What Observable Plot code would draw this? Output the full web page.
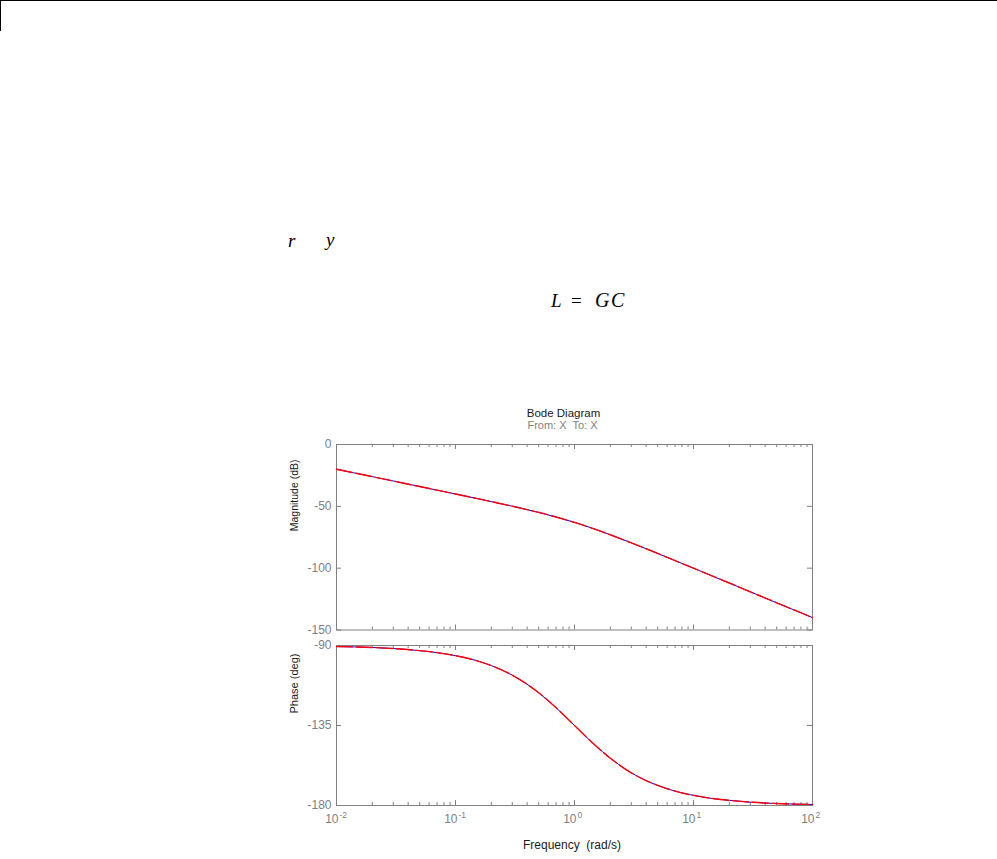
<!DOCTYPE html>
<html>
<head>
<meta charset="utf-8">
<script src="https://cdn.jsdelivr.net/npm/d3@7"></script>
<script src="https://cdn.jsdelivr.net/npm/@observablehq/plot@0.6"></script>
<style>
  body { margin: 0; background: #fff; }
  #page { position: relative; width: 997px; height: 859px; overflow: hidden; background: #fff;
          font-family: "Liberation Sans", Arial, sans-serif; }
  #page > svg { position: absolute; left: 0; }
</style>
</head>
<body>
<div id="page">
  <svg id="deco" width="997" height="400" style="top:0">
    <line x1="0" y1="0.5" x2="997" y2="0.5" stroke="#000" stroke-width="1"></line>
    <line x1="0.5" y1="0" x2="0.5" y2="31" stroke="#000" stroke-width="1"></line>
    <g font-family="Liberation Serif, DejaVu Serif, serif" font-size="19" fill="#000">
      <text x="288" y="247" font-style="italic">r</text>
      <text x="326" y="246" font-style="italic">y</text>
      <text x="551" y="307" font-style="italic">L</text>
      <text x="571" y="307">=</text>
      <text x="595" y="307" font-style="italic" font-size="20">G</text>
      <text x="611" y="307" font-style="italic" font-size="20">C</text>
    </g>
  </svg>
</div>
<script>
// ---- data ----
const freq     = [0.01, 0.02, 0.03, 0.05, 0.07, 0.1, 0.15, 0.2, 0.3, 0.4, 0.5, 0.7, 1, 1.5, 2, 3, 4, 5, 7, 10, 15, 20, 30, 50, 70, 100];
const magDb    = [-20.0, -26.0, -29.5, -34.0, -36.9, -40.0, -43.6, -46.2, -49.9, -52.7, -54.9, -58.6, -63.0, -68.6, -73.0, -79.5, -84.3, -88.1, -93.9, -100.0, -107.1, -112.0, -119.1, -128.0, -133.8, -140.0];
const phaseDeg = [-90.6, -91.1, -91.7, -92.9, -94.0, -95.7, -98.5, -101.3, -106.7, -111.8, -116.6, -125.0, -135.0, -146.3, -153.4, -161.6, -166.0, -168.7, -171.9, -174.3, -176.2, -177.1, -178.1, -178.9, -179.2, -179.4];
const magTicks   = [0, -50, -100, -150];
const phaseTicks = [-90, -135, -180];
const decadeTicks = [0.01, 0.1, 1, 10, 100];
const decadeExponents = ["-2", "-1", "0", "1", "2"];
const minorMultipliers = [2, 3, 4, 5, 6, 7, 8, 9];
const titleText = "Bode Diagram";
const subtitleText = "From: X  To: X";
const magLabel = "Magnitude (dB)";
const phaseLabel = "Phase (deg)";
const freqLabel = "Frequency  (rad/s)";

const rows = freq.map((f, i) => ({f, m: magDb[i], p: phaseDeg[i]}));
const minorTicks = decadeTicks.slice(0, 4).flatMap(d => minorMultipliers.map(k => k * d));

const W = 997, ML = 336, MR = 185;
const frameW = W - ML - MR;
const grey = "#808080";
const dark = "#1a1a1a";
const font = "Liberation Sans, Arial, sans-serif";

function tickMarks(frameH, yTicks) {
  return [
    Plot.tickX(minorTicks, {x: d => d, stroke: grey, insetBottom: frameH - 3}),
    Plot.tickX(minorTicks, {x: d => d, stroke: grey, insetTop: frameH - 3}),
    Plot.tickX(decadeTicks, {x: d => d, stroke: grey, insetBottom: frameH - 5}),
    Plot.tickX(decadeTicks, {x: d => d, stroke: grey, insetTop: frameH - 5}),
    Plot.tickY(yTicks, {y: d => d, stroke: grey, insetRight: frameW - 5}),
    Plot.tickY(yTicks, {y: d => d, stroke: grey, insetLeft: frameW - 5}),
    Plot.text(yTicks, {y: d => d, text: d => String(d), frameAnchor: "left", textAnchor: "end",
                       dx: -5, fill: grey, fontSize: 12})
  ];
}

function curve(key) {
  return [
    Plot.line(rows, {x: "f", y: key, stroke: "#0000ff", strokeWidth: 1, curve: "monotone-x"}),
    Plot.line(rows, {x: "f", y: key, stroke: "#ff0000", strokeWidth: 1.4, curve: "monotone-x",
                     strokeDasharray: "16,4"})
  ];
}

// ---- magnitude panel ----
const magTop = 48, magBottom = 6.5, magHeight = 240;
const magFrameH = magHeight - magTop - magBottom;
const p1 = Plot.plot({
  width: W, height: magHeight,
  marginLeft: ML, marginRight: MR, marginTop: magTop, marginBottom: magBottom,
  style: {background: "transparent", fontFamily: font, overflow: "visible"},
  x: {type: "log", domain: [0.01, 100], axis: null},
  y: {domain: [-150, 0], axis: null},
  marks: [
    Plot.frame({stroke: grey}),
    ...tickMarks(magFrameH, magTicks),
    ...curve("m"),
    Plot.text([titleText], {text: d => d, frameAnchor: "top", dx: -11, dy: -28, lineAnchor: "bottom",
                            fill: dark, fontSize: 11.5}),
    Plot.text([subtitleText], {text: d => d, frameAnchor: "top", dx: -12, dy: -16, lineAnchor: "bottom",
                               fill: grey, fontSize: 11, style: "white-space:pre"}),
    Plot.text([magLabel], {text: d => d, frameAnchor: "left", dx: -41.5, dy: -6, rotate: -90,
                           fill: dark, fontSize: 10.5})
  ]
});
p1.style.top = "396px";
document.getElementById("page").appendChild(p1);

// ---- phase panel ----
const phTop = 15, phBottom = 54, phHeight = 229;
const phFrameH = phHeight - phTop - phBottom;
const p2 = Plot.plot({
  width: W, height: phHeight,
  marginLeft: ML, marginRight: MR, marginTop: phTop, marginBottom: phBottom,
  style: {background: "transparent", fontFamily: font, overflow: "visible"},
  x: {type: "log", domain: [0.01, 100], axis: null},
  y: {domain: [-180, -90], axis: null},
  marks: [
    Plot.frame({stroke: grey}),
    ...tickMarks(phFrameH, phaseTicks),
    ...curve("p"),
    Plot.text(decadeTicks, {x: d => d, text: () => "10", frameAnchor: "bottom", textAnchor: "end",
                            dx: 2, dy: 17, lineAnchor: "bottom", fill: grey, fontSize: 12}),
    Plot.text(decadeTicks, {x: d => d, text: (d, i) => decadeExponents[i], frameAnchor: "bottom",
                            textAnchor: "start", dx: 3, dy: 12, lineAnchor: "bottom", fill: grey, fontSize: 8.5}),
    Plot.text([freqLabel], {text: d => d.replace("  ", "\u00a0 "), frameAnchor: "bottom", dx: -2.5, dy: 43,
                            lineAnchor: "bottom", fill: dark, fontSize: 12}),
    Plot.text([phaseLabel], {text: d => d, frameAnchor: "left", dx: -42, dy: -12, rotate: -90,
                             fill: dark, fontSize: 11})
  ]
});
p2.style.top = "630px";
document.getElementById("page").appendChild(p2);
</script>
</body>
</html>
